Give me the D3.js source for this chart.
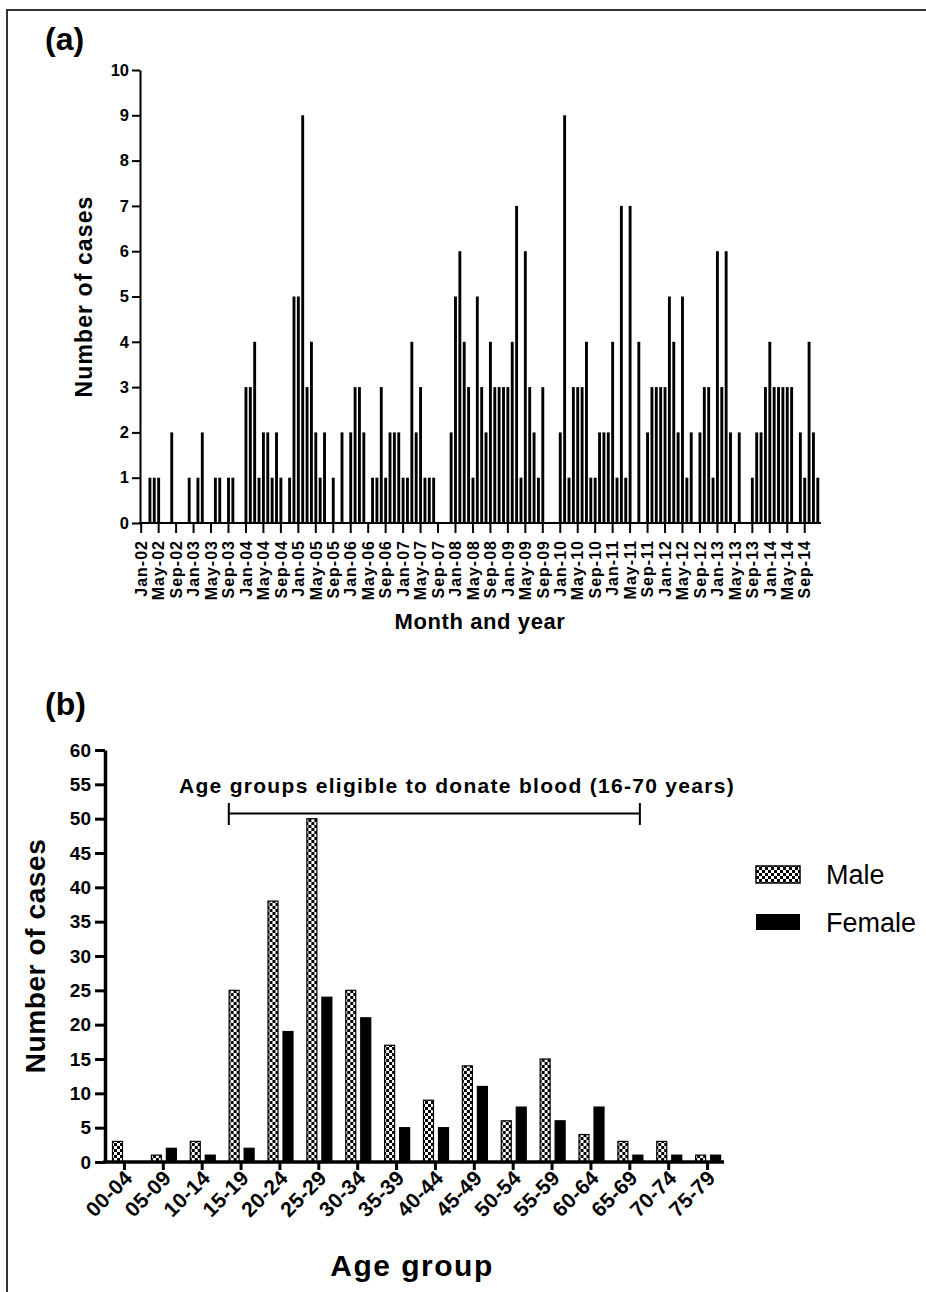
<!DOCTYPE html>
<html>
<head>
<meta charset="utf-8">
<script src="https://cdn.jsdelivr.net/npm/d3@7"></script>
<style>
  html, body { margin: 0; padding: 0; background: #fff; }
  svg { display: block; font-family: "Liberation Sans", Arial, Helvetica, sans-serif; }
</style>
</head>
<body>
<svg id="chart" width="926" height="1292"></svg>
<script>
// ---------- DATA ----------
const years = [2002, 2003, 2004, 2005, 2006, 2007, 2008, 2009, 2010, 2011, 2012, 2013, 2014];
const monthNames = ["Jan", "Feb", "Mar", "Apr", "May", "Jun", "Jul", "Aug", "Sep", "Oct", "Nov", "Dec"];
// monthly number of cases, Jan-02 .. Dec-14
const monthlyCases = [
  0,0,1,1,1,0,0,2,0,0,0,1,   // 2002
  0,1,2,0,0,1,1,0,1,1,0,0,   // 2003
  3,3,4,1,2,2,1,2,1,0,1,5,   // 2004
  5,9,3,4,2,1,2,0,1,0,2,0,   // 2005
  2,3,3,2,0,1,1,3,1,2,2,2,   // 2006
  1,1,4,2,3,1,1,1,0,0,0,2,   // 2007
  5,6,4,3,1,5,3,2,4,3,3,3,   // 2008
  3,4,7,1,6,3,2,1,3,0,0,0,   // 2009
  2,9,1,3,3,3,4,1,1,2,2,2,   // 2010
  4,1,7,1,7,0,4,0,2,3,3,3,   // 2011
  3,5,4,2,5,1,2,0,2,3,3,1,   // 2012
  6,3,6,2,0,2,0,0,1,2,2,3,   // 2013
  4,3,3,3,3,3,0,2,1,4,2,1    // 2014
];
const monthTickEvery = 4;
const yTicksA = [0,1,2,3,4,5,6,7,8,9,10];

const ageGroups = ["00-04","05-09","10-14","15-19","20-24","25-29","30-34","35-39",
                   "40-44","45-49","50-54","55-59","60-64","65-69","70-74","75-79"];
const maleCases   = [3, 1, 3, 25, 38, 50, 25, 17, 9, 14, 6, 15, 4, 3, 3, 1];
const femaleCases = [0, 2, 1, 2, 19, 24, 21, 5, 5, 11, 8, 6, 8, 1, 1, 1];
const seriesNames = ["Male", "Female"];
const yTicksB = [0,5,10,15,20,25,30,35,40,45,50,55,60];
const eligibleAges = [16, 70];
const eligibleLabel = "Age groups eligible to donate blood (16-70 years)";

// ---------- SETUP ----------
const FONT = "Liberation Sans, Arial, sans-serif";
const svg = d3.select("#chart");
const defs = svg.append("defs");
const pat = defs.append("pattern").attr("id", "checker")
  .attr("patternUnits", "userSpaceOnUse").attr("width", 6).attr("height", 6);
pat.append("rect").attr("width", 6).attr("height", 6).attr("fill", "#fff");
pat.append("rect").attr("width", 3).attr("height", 3).attr("fill", "#000");
pat.append("rect").attr("x", 3).attr("y", 3).attr("width", 3).attr("height", 3).attr("fill", "#000");

// frame
svg.append("path").attr("d", "M7,1292 V10 H926")
  .attr("fill", "none").attr("stroke", "#333").attr("stroke-width", 2);

// ---------- PANEL A ----------
const months = [];
years.forEach(y => monthNames.forEach(m => months.push(m + "-" + String(y).slice(2))));

const xA = d3.scaleBand().domain(months).range([139, 820]).paddingInner(0.34).paddingOuter(0.17);
const yA = d3.scaleLinear().domain([0, 10]).range([523, 70]);

const gA = svg.append("g");
gA.selectAll("rect.bar").data(monthlyCases.map((v, i) => ({ m: months[i], v })).filter(d => d.v > 0))
  .join("rect").attr("class", "bar")
  .attr("x", d => xA(d.m)).attr("width", xA.bandwidth())
  .attr("y", d => yA(d.v)).attr("height", d => yA(0) - yA(d.v))
  .attr("fill", "#000");

const yAxisA = d3.axisLeft(yA).tickValues(yTicksA).tickSize(8).tickPadding(3).tickSizeOuter(0);
const gyA = gA.append("g").attr("transform", "translate(140,0)").call(yAxisA);
gyA.select(".domain").attr("stroke-width", 2);
gyA.selectAll(".tick line").attr("stroke-width", 2);
gyA.selectAll(".tick text").attr("font-size", 16.5).attr("font-weight", "bold").attr("font-family", FONT);

const tickMonths = months.filter((m, i) => i % monthTickEvery === 0);
const xAxisA = d3.axisBottom(xA).tickValues(tickMonths).tickSize(10).tickSizeOuter(0).tickFormat(d => d);
const gxA = gA.append("g").attr("transform", "translate(0,523)").call(xAxisA);
gxA.select(".domain").attr("d", "M139,0H821").attr("stroke-width", 2);
gxA.selectAll(".tick line").attr("stroke-width", 2);
gxA.selectAll(".tick text")
  .attr("font-size", 16).attr("font-weight", "bold").attr("font-family", FONT)
  .attr("transform", "rotate(-90)")
  .attr("text-anchor", "end")
  .attr("x", -17).attr("y", 0).attr("dy", "0.36em")
  .attr("letter-spacing", 1);

gA.append("text").attr("x", 45).attr("y", 50).attr("font-size", 32).attr("font-weight", "bold").text("(a)");
gA.append("text").attr("transform", "translate(92,296.5) rotate(-90)").attr("text-anchor", "middle")
  .attr("font-size", 23).attr("font-weight", "bold").attr("letter-spacing", 1.1).text("Number of cases");
gA.append("text").attr("x", 480).attr("y", 629).attr("text-anchor", "middle")
  .attr("font-size", 22).attr("font-weight", "bold").attr("letter-spacing", 0.6).text("Month and year");

// ---------- PANEL B ----------
const xB = d3.scaleBand().domain(ageGroups).range([105, 727]);
const xSub = d3.scaleBand().domain(seriesNames).range([5, 35]).paddingInner(1/3).paddingOuter(1/6);
const yB = d3.scaleLinear().domain([0, 60]).range([1162, 750]);
const ageScale = d3.scaleLinear().domain([0, 80]).range([107, 716]);

const gB = svg.append("g");
const rowsB = ageGroups.map((g, i) => ({ g, Male: maleCases[i], Female: femaleCases[i] }));
const grp = gB.selectAll("g.grp").data(rowsB).join("g").attr("class", "grp")
  .attr("transform", d => `translate(${xB(d.g)},0)`);
grp.selectAll("rect").data(d => seriesNames.map(s => ({ s, v: d[s] })).filter(e => e.v > 0))
  .join("rect")
  .attr("x", d => xSub(d.s)).attr("width", xSub.bandwidth())
  .attr("y", d => yB(d.v)).attr("height", d => yB(0) - yB(d.v))
  .attr("fill", d => d.s === "Male" ? "url(#checker)" : "#000")
  .attr("stroke", "#000").attr("stroke-width", 1.2);

const yAxisB = d3.axisLeft(yB).tickValues(yTicksB).tickSize(10).tickPadding(4).tickSizeOuter(0);
const gyB = gB.append("g").attr("transform", "translate(105,0)").call(yAxisB);
gyB.select(".domain").attr("stroke-width", 3.5);
gyB.selectAll(".tick line").attr("stroke-width", 3);
gyB.selectAll(".tick text").attr("font-size", 19).attr("font-weight", "bold").attr("font-family", FONT);

const xAxisB = d3.axisBottom(xB).tickSize(8).tickSizeOuter(0);
const gxB = gB.append("g").attr("transform", "translate(0,1162)").call(xAxisB);
gxB.select(".domain").attr("d", "M103,0H724").attr("stroke-width", 3.5);
gxB.selectAll(".tick line").attr("stroke-width", 3);
gxB.selectAll(".tick text")
  .attr("font-size", 21).attr("font-weight", "bold").attr("font-family", FONT)
  .attr("text-anchor", "end")
  .attr("letter-spacing", 0.3)
  .attr("transform", "translate(4,12) rotate(-45)")
  .attr("x", 0).attr("y", 0).attr("dy", "0.35em");

gB.append("text").attr("x", 45).attr("y", 715).attr("font-size", 32).attr("font-weight", "bold").text("(b)");
gB.append("text").attr("transform", "translate(45,956) rotate(-90)").attr("text-anchor", "middle")
  .attr("font-size", 28).attr("font-weight", "bold").attr("letter-spacing", 0.6).text("Number of cases");
gB.append("text").attr("x", 412).attr("y", 1276).attr("text-anchor", "middle")
  .attr("font-size", 30).attr("font-weight", "bold").attr("letter-spacing", 1.5).text("Age group");

// eligibility bracket
const bx0 = ageScale(eligibleAges[0]), bx1 = ageScale(eligibleAges[1]);
gB.append("path")
  .attr("d", `M${bx0},803V825M${bx0},813.5H${bx1}M${bx1},803V825`)
  .attr("fill", "none").attr("stroke", "#000").attr("stroke-width", 2);
gB.append("text").attr("x", 457).attr("y", 793).attr("text-anchor", "middle")
  .attr("font-size", 21).attr("font-weight", "bold").attr("letter-spacing", 1.3).text(eligibleLabel);

// legend
const leg = gB.append("g");
leg.append("rect").attr("x", 756).attr("y", 866).attr("width", 44).attr("height", 17)
  .attr("fill", "url(#checker)").attr("stroke", "#000").attr("stroke-width", 1.5);
leg.append("rect").attr("x", 756).attr("y", 914).attr("width", 44).attr("height", 16)
  .attr("fill", "#000");
leg.append("text").attr("x", 826).attr("y", 884).attr("font-size", 27).text(seriesNames[0]);
leg.append("text").attr("x", 826).attr("y", 932).attr("font-size", 27).text(seriesNames[1]);
</script>
</body>
</html>
